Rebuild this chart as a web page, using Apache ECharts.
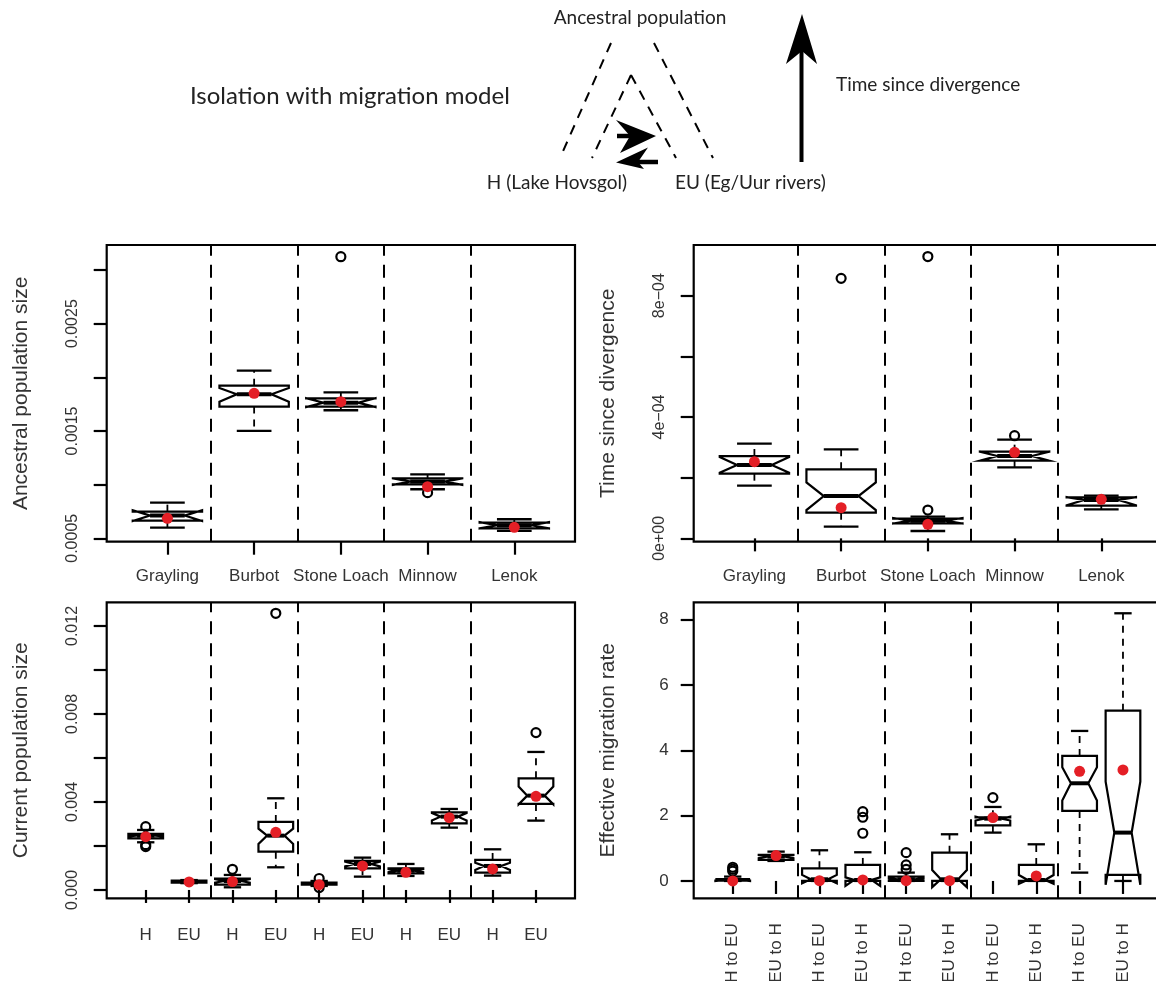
<!DOCTYPE html>
<html>
<head>
<meta charset="utf-8">
<script src="https://cdn.jsdelivr.net/npm/echarts@6/dist/echarts.min.js"></script>
<style>
  html, body { margin: 0; padding: 0; background: #fff; }
  #chart { width: 1156px; height: 981px; }
</style>
</head>
<body>
<div id="chart"></div>
<script>
// ---- data ----
const speciesNames = ["Grayling", "Burbot", "Stone Loach", "Minnow", "Lenok"];
const popNames = ["H", "EU", "H", "EU", "H", "EU", "H", "EU", "H", "EU"];
const migNames = ["H to EU", "EU to H", "H to EU", "EU to H", "H to EU", "EU to H", "H to EU", "EU to H", "H to EU", "EU to H"];

// ancestral population size
const ancWhiskerLow = [0.000599, 0.00150, 0.001693, 0.000957, 0.000568];
const ancQ1 = [0.000665, 0.001727, 0.001727, 0.001003, 0.000593];
const ancMedian = [0.000711, 0.001842, 0.001764, 0.001028, 0.000621];
const ancQ3 = [0.000748, 0.001922, 0.001804, 0.001059, 0.000646];
const ancWhiskerHigh = [0.000832, 0.002062, 0.00186, 0.001096, 0.000677];
const ancNotchLow = [0.00066, 0.001773, 0.001722, 0.000998, 0.000592];
const ancNotchHigh = [0.000762, 0.0019, 0.001806, 0.001058, 0.00065];
const ancMean = [0.000686, 0.001851, 0.001773, 0.000981, 0.000602];
const ancOutliers = [[3, 0.003124], [4, 0.000925]];

// time since divergence
const divWhiskerLow = [1.736e-4, 0.385e-4, 0.242e-4, 2.34e-4, 0.956e-4];
const divQ1 = [2.132e-4, 0.846e-4, 0.495e-4, 2.56e-4, 1.077e-4];
const divMedian = [2.418e-4, 1.396e-4, 0.582e-4, 2.714e-4, 1.264e-4];
const divQ3 = [2.714e-4, 2.275e-4, 0.648e-4, 2.857e-4, 1.352e-4];
const divWhiskerHigh = [3.12e-4, 2.934e-4, 0.714e-4, 3.253e-4, 1.407e-4];
const divNotchLow = [2.16e-4, 0.934e-4, 0.49e-4, 2.56e-4, 1.09e-4];
const divNotchHigh = [2.68e-4, 1.846e-4, 0.67e-4, 2.86e-4, 1.36e-4];
const divMean = [2.527e-4, 1.011e-4, 0.462e-4, 2.835e-4, 1.286e-4];
const divOutliers = [[2, 8.57e-4], [3, 9.29e-4], [3, 0.934e-4], [4, 3.385e-4]];

// current population size
const curWhiskerLow = [0.002167, 0.00031, 0.000121, 0.00103, 0.000182, 0.000606, 0.000636, 0.002833, 0.000652, 0.003152];
const curQ1 = [0.002348, 0.000333, 0.000242, 0.001742, 0.000242, 0.000985, 0.000758, 0.00303, 0.000788, 0.003909];
const curMedian = [0.00247, 0.000379, 0.000409, 0.00247, 0.000288, 0.001182, 0.000879, 0.003333, 0.001091, 0.004288];
const curQ3 = [0.002545, 0.000424, 0.000515, 0.003091, 0.000333, 0.001318, 0.000985, 0.00353, 0.001364, 0.005076];
const curWhiskerHigh = [0.002727, 0.00045, 0.000682, 0.004167, 0.000409, 0.00147, 0.001182, 0.003682, 0.001848, 0.006273];
const curNotchLow = [0.00243, 0.00035, 0.00033, 0.002091, 0.00026, 0.00107, 0.00081, 0.00316, 0.00091, 0.00389];
const curNotchHigh = [0.00251, 0.00041, 0.00049, 0.002788, 0.00032, 0.00129, 0.00095, 0.0035, 0.00124, 0.0047];
const curMean = [0.002424, 0.000364, 0.000379, 0.002621, 0.000242, 0.001091, 0.000803, 0.003288, 0.000955, 0.004258];
const curOutliers = [[1, 0.002879], [1, 0.00206], [1, 0.00197], [3, 0.000939], [4, 0.012576], [5, 0.00052], [5, 0.00011], [10, 0.007152]];

// effective migration rate
const migWhiskerLow = [0, 0.612, 0, 0, 0, 0, 1.48, 0, 0.255, 0];
const migQ1 = [0.01, 0.643, 0, 0, 0, 0, 1.704, 0, 2.143, 0.184];
const migMedian = [0.03, 0.745, 0.051, 0.03, 0.051, 0.051, 1.908, 0.03, 2.99, 1.48];
const migQ3 = [0.06, 0.796, 0.388, 0.49, 0.133, 0.867, 1.949, 0.49, 3.827, 5.214];
const migWhiskerHigh = [0.133, 0.898, 0.939, 0.878, 0.255, 1.429, 2.265, 1.122, 4.592, 8.194];
const migNotchLow = [0.0, 0.70, -0.07, -0.15, 0.02, -0.19, 1.85, -0.09, 2.459, -0.12];
const migNotchHigh = [0.06, 0.79, 0.184, 0.11, 0.09, 0.337, 1.97, 0.18, 3.48, 3.041];
const migMean = [0.0, 0.776, 0.01, 0.03, 0.01, 0.01, 1.939, 0.153, 3.357, 3.398];
const migOutliers = [[1, 0.42], [1, 0.36], [1, 0.30], [4, 2.12], [4, 1.95], [4, 1.46], [5, 0.867], [5, 0.49], [5, 0.357], [7, 2.551]];

// axis ticks / labels
const ancTicks = [0.0005, 0.001, 0.0015, 0.002, 0.0025, 0.003];
const ancLabels = [0.0005, 0.0015, 0.0025];
const divTicks = [0, 0.0002, 0.0004, 0.0006, 0.0008];
const divLabels = [0, 0.0004, 0.0008];
const divLabelText = ["0e+00", "4e\u221204", "8e\u221204"];
const curTicks = [0, 0.002, 0.004, 0.006, 0.008, 0.01, 0.012];
const curLabels = [0, 0.004, 0.008, 0.012];
const migTicks = [0, 2, 4, 6, 8];

const chart = echarts.init(document.getElementById("chart"));

const HALF = 0.4; // half box width in x units (boxwex 0.8)

function boxRows(wl, q1, md, q3, wh, c1, c2) {
  return wl.map((v, i) => [i + 1, v, q1[i], md[i], q3[i], wh[i], c1[i], c2[i]]);
}

function renderBox(params, api) {
  const x = api.value(0);
  const wl = api.value(1), q1 = api.value(2), md = api.value(3);
  const q3 = api.value(4), wh = api.value(5), c1 = api.value(6), c2 = api.value(7);
  const p = (a, b) => api.coord([a, b]);
  const w = HALF;
  const seg = (a, b, style) => ({
    type: "line",
    shape: { x1: a[0], y1: a[1], x2: b[0], y2: b[1] },
    style: Object.assign({ stroke: "#000" }, style)
  });
  const poly = [
    p(x - w, q1), p(x + w, q1), p(x + w, c1), p(x + w / 2, md), p(x + w, c2),
    p(x + w, q3), p(x - w, q3), p(x - w, c2), p(x - w / 2, md), p(x - w, c1)
  ];
  return {
    type: "group",
    children: [
      seg(p(x, q3), p(x, wh), { lineWidth: 1.8, lineDash: [7, 6] }),
      seg(p(x, q1), p(x, wl), { lineWidth: 1.8, lineDash: [7, 6] }),
      seg(p(x - w / 2, wh), p(x + w / 2, wh), { lineWidth: 2.3 }),
      seg(p(x - w / 2, wl), p(x + w / 2, wl), { lineWidth: 2.3 }),
      { type: "polygon", shape: { points: poly }, style: { fill: "none", stroke: "#000", lineWidth: 2.2, lineJoin: "miter" } },
      seg(p(x - w / 2, md), p(x + w / 2, md), { lineWidth: 4 })
    ]
  };
}

const grids = [
  { left: 106.7, top: 245, width: 468.3, height: 296.7 },
  { left: 693.7, top: 245, width: 468.3, height: 296.7 },
  { left: 106.7, top: 602.3, width: 468.3, height: 296 },
  { left: 693.7, top: 602.3, width: 468.3, height: 296 }
].map(g => Object.assign(g, {
  show: true, borderColor: "#000", borderWidth: 2.2, backgroundColor: "transparent",
  containLabel: false, outerBoundsMode: "none"
}));

const near = (a, b) => Math.abs(a - b) < 1e-9;

function xAxisFor(idx, names, labelOpts) {
  const n = names.length;
  const vals = names.map((_, i) => i + 1);
  return {
    type: "value",
    gridIndex: idx,
    min: 0.5 - 0.04 * n,
    max: n + 0.5 + 0.04 * n,
    splitLine: { show: false },
    axisLine: { show: false },
    axisTick: { show: true, customValues: vals, length: 13, lineStyle: { color: "#000", width: 2.2 } },
    axisLabel: Object.assign({
      show: true,
      customValues: vals,
      formatter: v => names[Math.round(v) - 1] || "",
      color: "#333",
      fontFamily: "Liberation Sans",
      fontSize: 17,
      margin: 26
    }, labelOpts || {})
  };
}

function yAxisFor(idx, min, max, ticks, labels, fmt, name, labelOpts) {
  return {
    type: "value",
    gridIndex: idx,
    min: min,
    max: max,
    splitLine: { show: false },
    axisLine: { show: false },
    axisTick: { show: true, customValues: ticks, length: 13, lineStyle: { color: "#000", width: 2.2 } },
    axisLabel: Object.assign({
      show: true,
      customValues: labels,
      formatter: fmt,
      rotate: 90,
      color: "#333",
      fontFamily: "Liberation Sans",
      fontSize: 16,
      margin: 26
    }, labelOpts || {}),
    name: name,
    nameLocation: "middle",
    nameGap: 75,
    nameTextStyle: { color: "#333", fontFamily: "Liberation Sans", fontSize: 21 }
  };
}

const sepStyle = { color: "#000", width: 2, type: [13, 9] };

function panelSeries(idx, rows, means, outliers, seps) {
  return [
    {
      type: "custom",
      xAxisIndex: idx,
      yAxisIndex: idx,
      renderItem: renderBox,
      data: rows,
      silent: true,
      markLine: {
        symbol: "none",
        silent: true,
        label: { show: false },
        lineStyle: sepStyle,
        data: seps.map(v => ({ xAxis: v }))
      }
    },
    {
      type: "scatter",
      xAxisIndex: idx,
      yAxisIndex: idx,
      symbol: "circle",
      symbolSize: 9,
      itemStyle: { color: "rgba(0,0,0,0)", borderColor: "#000", borderWidth: 2.2, opacity: 1 },
      data: outliers
    },
    {
      type: "scatter",
      xAxisIndex: idx,
      yAxisIndex: idx,
      symbol: "circle",
      symbolSize: 11,
      itemStyle: { color: "#e41f26", opacity: 1 },
      data: means.map((v, i) => [i + 1, v]),
      z: 5
    }
  ];
}

const diagramDash = { stroke: "#000", lineWidth: 2, lineDash: [10, 8] };
const txt = (text, x, y, size, align) => ({
  type: "text",
  x: x, y: y,
  style: { text: text, fill: "#222", font: size + "px Lato", textAlign: align, textVerticalAlign: "middle" }
});
const ln = (x1, y1, x2, y2, style) => ({ type: "line", shape: { x1, y1, x2, y2 }, style: style });

const option = {
  animation: false,
  backgroundColor: "#fff",
  grid: grids,
  xAxis: [
    xAxisFor(0, speciesNames),
    xAxisFor(1, speciesNames),
    xAxisFor(2, popNames, { margin: 29 }),
    xAxisFor(3, migNames, { rotate: 90, fontSize: 17, margin: 25 })
  ],
  yAxis: [
    yAxisFor(0, 0.000468, 0.003233, ancTicks, ancLabels, v => v.toFixed(4), "Ancestral population size"),
    yAxisFor(1, -1.1e-5, 9.67e-4, divTicks, divLabels,
      v => { const i = divLabels.findIndex(t => near(t, v)); return i >= 0 ? divLabelText[i] : ""; },
      "Time since divergence"),
    yAxisFor(2, -0.000379, 0.013076, curTicks, curLabels, v => v.toFixed(3), "Current population size"),
    yAxisFor(3, -0.531, 8.53, migTicks, migTicks, v => String(Math.round(v)), "Effective migration rate", { rotate: 0, margin: 25, fontSize: 17 })
  ],
  series: [].concat(
    panelSeries(0, boxRows(ancWhiskerLow, ancQ1, ancMedian, ancQ3, ancWhiskerHigh, ancNotchLow, ancNotchHigh), ancMean, ancOutliers, [1.5, 2.5, 3.5, 4.5]),
    panelSeries(1, boxRows(divWhiskerLow, divQ1, divMedian, divQ3, divWhiskerHigh, divNotchLow, divNotchHigh), divMean, divOutliers, [1.5, 2.5, 3.5, 4.5]),
    panelSeries(2, boxRows(curWhiskerLow, curQ1, curMedian, curQ3, curWhiskerHigh, curNotchLow, curNotchHigh), curMean, curOutliers, [2.5, 4.5, 6.5, 8.5]),
    panelSeries(3, boxRows(migWhiskerLow, migQ1, migMedian, migQ3, migWhiskerHigh, migNotchLow, migNotchHigh), migMean, migOutliers, [2.5, 4.5, 6.5, 8.5])
  ),
  graphic: [
    txt("Isolation with migration model", 190, 96, 24, "left"),
    txt("Ancestral population", 640, 18, 19, "center"),
    txt("Time since divergence", 836, 85, 19, "left"),
    txt("H (Lake Hovsgol)", 627, 183, 19, "right"),
    txt("EU (Eg/Uur rivers)", 675, 183, 19, "left"),
    ln(611, 43, 560, 158, diagramDash),
    ln(654, 43, 713, 158, diagramDash),
    ln(631, 75, 592, 158, diagramDash),
    ln(631, 75, 676, 158, diagramDash),
    // migration arrows
    ln(617, 136, 640, 136, { stroke: "#000", lineWidth: 4.5 }),
    { type: "polygon", shape: { points: [[656, 136], [616, 120], [630, 136], [620, 153]] }, style: { fill: "#000" } },
    ln(636, 162, 658, 162, { stroke: "#000", lineWidth: 4.5 }),
    { type: "polygon", shape: { points: [[616, 162.5], [648, 147.5], [638, 162], [644, 169]] }, style: { fill: "#000" } },
    // time arrow
    ln(801.5, 50, 801.5, 162, { stroke: "#000", lineWidth: 4 }),
    { type: "polygon", shape: { points: [[802, 14], [817, 64], [802, 51], [786, 64]] }, style: { fill: "#000" } }
  ]
};

chart.setOption(option);
</script>
</body>
</html>
